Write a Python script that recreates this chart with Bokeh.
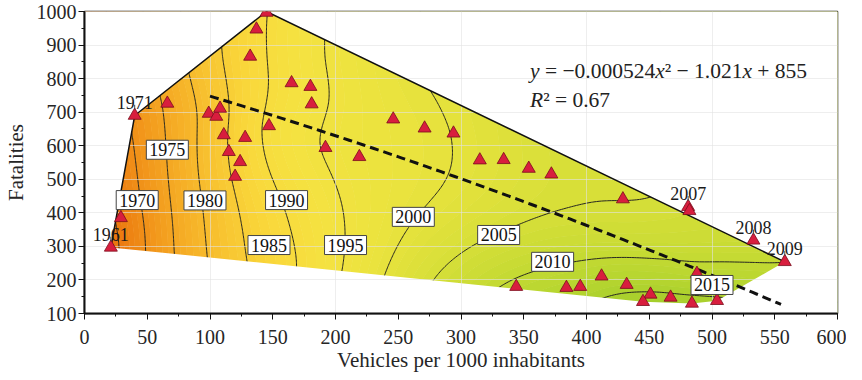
import numpy as np
from bokeh.plotting import figure
from bokeh.models import SingleIntervalTicker, Label
from bokeh.core.properties import value
from bokeh.embed import file_html
from bokeh.resources import INLINE

# ---- data ----
vehicles = [21, 29, 40, 66, 99, 105, 108, 111, 115, 120, 124, 128, 132, 137, 145,
            147, 165, 180, 181, 192, 219, 246, 271, 294, 315, 334, 354, 372, 429,
            481, 482, 533, 558, 488, 344, 384, 395, 412, 432, 451, 445, 467, 484, 504]
fatalities = [297, 385, 690, 726, 696, 687, 711, 632, 582, 508, 552, 624, 866, 947, 997,
              659, 787, 776, 724, 594, 567, 679, 652, 637, 557, 558, 532, 515, 441,
              418, 406, 318, 254, 219, 180, 177, 180, 211, 186, 157, 135, 148, 130, 138]
years = [1961, 1966, 1971, 1975, 1981, 1982, 1983, 1985, 1985, 1986, 1987, 1988, 1988, 1989, 1990,
         1993, 1992, 1993, 1993, 1996, 1997, 1998, 1999, 2000, 2001, 2002, 2003, 2004, 2005,
         2006, 2007, 2008, 2009, 2010, 2011, 2012, 2012, 2013, 2014, 2016, 2016, 2016, 2016, 2016]

# positions (x, y, year)
trace_x = [44, 42, 37,
           69, 66, 60,
           97, 95, 90, 81,
           124, 118, 114, 112, 106,
           179, 161, 150, 143,
           207, 208, 206, 198, 180, 200, 193, 185,
           237, 262, 275, 291, 295, 293, 285, 254,
           273, 312, 330, 346, 393, 433, 469, 444, 429, 410, 386, 368,
           324, 357, 388, 410, 449, 483, 520, 548,
           412, 420, 431, 460, 490, 520]
trace_y = [280, 438, 650,
           272, 588, 744,
           262, 437, 562, 822,
           285, 494, 592, 780, 860,
           245, 438, 786, 860,
           240, 304, 413, 532, 613, 730, 801, 860,
           215, 388, 413, 464, 523, 646, 741, 810,
           205, 309, 334, 348, 360, 362, 377, 422, 443, 473, 541, 616,
           183, 240, 268, 266, 252, 222, 232, 240,
           150, 168, 183, 181, 180, 180]
trace_year = [1970] * 3 + [1975] * 3 + [1980] * 4 + [1985] * 5 + [1990] * 4 + [1995] * 8 + \
             [2000] * 8 + [2005] * 12 + [2010] * 8 + [2015] * 6

hull_x = [21, 40, 145, 558, 504, 484, 445]
hull_y = [297, 690, 1000, 254, 138, 130, 135]
edge_x = [21, 40, 145, 558]
edge_y = [297, 690, 1000, 254]

tagged_text = ["1961", "1971", "2007", "2008", "2009"]
tagged_x = [21, 40, 481, 533, 558]
tagged_y = [297, 690, 418, 318, 254]

contour_years = [1965, 1970, 1975, 1980, 1985, 1990, 1995, 2000, 2005, 2010, 2015]
clabel_text = ["1970", "1975", "1980", "1985", "1990", "1995", "2000", "2005", "2010", "2015"]
clabel_x = [42, 66, 96, 147, 161, 208, 262, 330, 373, 500]
clabel_y = [438, 588, 437, 304, 438, 304, 388, 334, 254, 185]

reg_coef = [-0.000524, -1.021, 855]
reg_x_range = [100, 555]

anchor_years = [1958, 1963, 1968, 1973, 1978, 1983, 1988, 1993, 1998, 2003, 2008, 2013, 2018]
anchor_colors = ["#e4600a", "#e9700c", "#ee8614", "#f39d1e", "#f6b228", "#f8c632", "#f9d83b",
                 "#f5e241", "#ebe33e", "#dde03a", "#cbdc35", "#b6d52f", "#9ecc2b"]

# ---- smooth year surface (thin-plate spline through points and contour reads) ----
ax_ = np.concatenate([vehicles, trace_x]).astype(float)
ay_ = np.concatenate([fatalities, trace_y]).astype(float)
az_ = np.concatenate([years, trace_year]).astype(float)
u = ax_ / 100.0
v = ay_ / 300.0
n = len(u)

def phi(d):
    with np.errstate(divide="ignore", invalid="ignore"):
        r = np.where(d > 0, d * d * np.log(d), 0.0)
    return r

D = np.hypot(u[:, None] - u[None, :], v[:, None] - v[None, :])
A = np.zeros((n + 3, n + 3))
A[:n, :n] = phi(D) + 0.5 * np.eye(n)
P = np.column_stack([np.ones(n), u, v])
A[:n, n:] = P
A[n:, :n] = P.T
sol = np.linalg.solve(A, np.concatenate([az_, np.zeros(3)]))
w, a = sol[:n], sol[n:]

gx = np.linspace(0, 600, 301)
gy = np.linspace(100, 1000, 226)
GX, GY = np.meshgrid(gx, gy)
GU, GV = GX / 100.0, GY / 300.0
Z = a[0] + a[1] * GU + a[2] * GV
for i in range(n):
    Z += w[i] * phi(np.hypot(GU - u[i], GV - v[i]))
Z = np.clip(Z, 1950, 2025)

def hex2rgb(h):
    return np.array([int(h[i:i + 2], 16) for i in (1, 3, 5)], float)

anc = np.array([hex2rgb(c) for c in anchor_colors])
fill_levels = np.arange(1950, 2025.5, 1.0)
mids = 0.5 * (fill_levels[:-1] + fill_levels[1:])
fill_cols = []
for m in mids:
    rgb = [np.interp(m, anchor_years, anc[:, k]) for k in range(3)]
    fill_cols.append("#%02x%02x%02x" % tuple(int(round(c)) for c in rgb))

# ---- figure ----
SERIF = "Liberation Serif"
p = figure(width=846, height=377, x_range=(0, 600), y_range=(100, 1000),
           output_backend="svg", toolbar_location=None,
           min_border_left=80, min_border_right=9, min_border_top=11, min_border_bottom=64)
p.background_fill_color = "white"
p.border_fill_color = "white"
p.outline_line_color = "#111111"
p.outline_line_width = 1.5

# filled bands drawn twice so that anti-aliasing seams between bands disappear
for _ in range(2):
    cf = p.contour(gx, gy, Z, fill_levels, fill_color=fill_cols, line_color=None)
    cf.level = "image"
cl = p.contour(gx, gy, Z, contour_years, fill_color=None, line_color="#262620", line_width=1.0)
cl.level = "image"

outer_x = [-50, 650, 650, -50]
outer_y = [0, 0, 1100, 1100]
p.multi_polygons(xs=[[[outer_x, hull_x]]], ys=[[[outer_y, hull_y]]],
                 fill_color="white", line_color=None, level="image")

# axes / grid
p.xaxis.ticker = SingleIntervalTicker(interval=50, num_minor_ticks=2)
p.yaxis.ticker = SingleIntervalTicker(interval=100, num_minor_ticks=2)
p.xgrid.ticker = SingleIntervalTicker(interval=100)
p.ygrid.ticker = SingleIntervalTicker(interval=100)
p.grid.grid_line_color = "#e2e2e2"
p.grid.grid_line_width = 1
p.grid.grid_line_alpha = 0.6

for axis in (p.xaxis[0], p.yaxis[0]):
    axis.axis_line_color = "#111111"
    axis.axis_line_width = 2
    axis.major_tick_line_color = "#111111"
    axis.minor_tick_line_color = "#111111"
    axis.major_tick_out = 6
    axis.major_tick_in = 0
    axis.minor_tick_out = 3
    axis.minor_tick_in = 0
    axis.major_label_text_font = SERIF
    axis.major_label_text_font_size = "20px"
    axis.major_label_text_color = "#262626"
    axis.axis_label_text_font = SERIF
    axis.axis_label_text_font_size = "21px"
    axis.axis_label_text_font_style = "normal"
    axis.axis_label_text_color = "#262626"
p.xaxis.axis_label = "Vehicles per 1000 inhabitants"
p.yaxis.axis_label = "Fatalities"
p.xaxis.major_label_standoff = 10
p.xaxis.axis_label_standoff = 1
p.yaxis.major_label_standoff = 2
p.yaxis.axis_label_standoff = 6

# upper hull edge
p.line(edge_x, edge_y, line_color="#111111", line_width=1.5)

# regression curve
xr = np.linspace(reg_x_range[0], reg_x_range[1], 120)
yr = reg_coef[0] * xr ** 2 + reg_coef[1] * xr + reg_coef[2]
p.line(xr, yr, line_color="#111111", line_width=3, line_dash="9 5")

# points
p.scatter(vehicles, fatalities, marker="triangle", size=13,
          fill_color="#d81e3e", line_color="#7a0c1c", line_width=0.8)

# year tags on selected points
p.segment(x0=tagged_x, y0=[t + 18 for t in tagged_y], x1=tagged_x, y1=[t + 32 for t in tagged_y],
          line_color="#444444", line_width=1)
p.text(x=tagged_x, y=tagged_y, text=tagged_text, y_offset=-13,
       text_font=value(SERIF), text_font_size="18px", text_color="#1a1a1a",
       text_align="center", text_baseline="alphabetic")

# contour labels
p.text(x=clabel_x, y=clabel_y, text=clabel_text,
       text_font=value(SERIF), text_font_size="18px", text_color="#111111",
       text_align="center", text_baseline="middle",
       background_fill_color="white", border_line_color="#444444", border_line_width=1,
       padding=3)

# equation (non-breaking spaces keep the spacing inside SVG text)
F = 21.5
NB = "\u00a0"
eq_x, eq_y, r2_y = 355, 822, 735
pieces = [("y", "italic", 0.444), (NB + "=" + NB + "\u22120.000524", "normal", 5.378),
          ("x", "italic", 0.444), ("\u00b2" + NB + "\u2212" + NB + "1.021", "normal", 3.614),
          ("x", "italic", 0.444), (NB + "+" + NB + "855", "normal", 2.564)]
off = 0.0
for txt, style, wem in pieces:
    p.add_layout(Label(x=eq_x, y=eq_y, x_offset=off, text=txt, text_font=SERIF,
                       text_font_size=f"{F}px", text_font_style=style,
                       text_color="#222222", text_baseline="alphabetic"))
    off += wem * F
p.add_layout(Label(x=eq_x, y=r2_y, text="R", text_font=SERIF, text_font_size=f"{F}px",
                   text_font_style="italic", text_color="#222222", text_baseline="alphabetic"))
p.add_layout(Label(x=eq_x, y=r2_y, x_offset=0.611 * F, text="\u00b2" + NB + "=" + NB + "0.67",
                   text_font=SERIF, text_font_size=f"{F}px", text_color="#222222",
                   text_baseline="alphabetic"))

open("out.html", "w").write(file_html(p, INLINE))
